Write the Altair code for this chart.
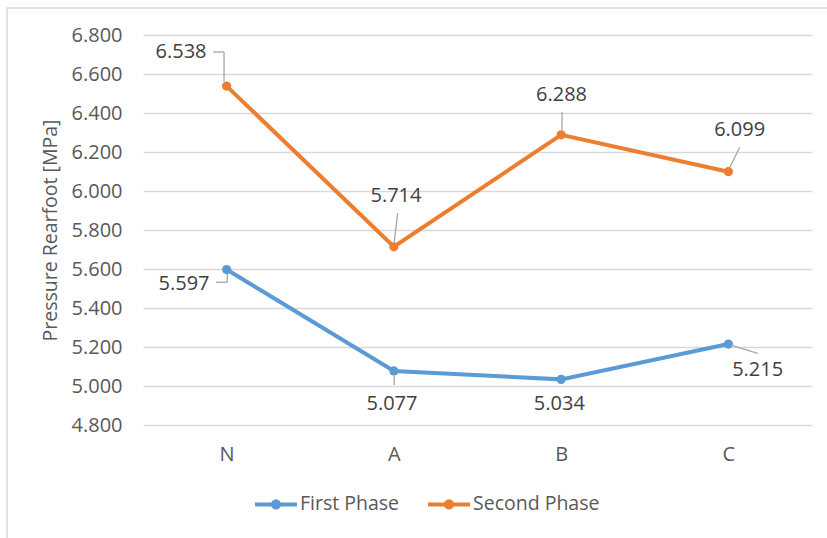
import altair as alt
import pandas as pd

# Rearfoot pressure per condition, two measurement phases
cats = ["N", "A", "B", "C"]
first_phase = [5.597, 5.077, 5.034, 5.215]
second_phase = [6.538, 5.714, 6.288, 6.099]
series_names = ["First Phase", "Second Phase"]
y_ticks = [4.8, 5.0, 5.2, 5.4, 5.6, 5.8, 6.0, 6.2, 6.4, 6.6, 6.8]

colors = ["#5B9BD5", "#ED7D31"]
FONT = "Open Sans"

rows = []
for name, vals in zip(series_names, [first_phase, second_phase]):
    for c, v in zip(cats, vals):
        rows.append({"series": name, "cat": c, "value": v})
df = pd.DataFrame(rows)

# Data label placement (pixel offsets from each marker) and leader-line vertices
label_layout = {
    ("Second Phase", "N"): (-45.6, -33.6, [(-13.6, -34.1), (-2.6, -34.1), (-2.6, -4.5)]),
    ("Second Phase", "A"): (2.1, -51.1, [(3.8, -33.5), (0.3, -4.5)]),
    ("Second Phase", "B"): (0.4, -39.5, [(0.9, -22.8), (0.9, -4.5)]),
    ("Second Phase", "C"): (11.3, -41.7, [(11.3, -24.4), (1.5, -4.5)]),
    ("First Phase", "N"): (-42.6, 14.2, [(-10.6, 12.7), (0.7, 12.7), (0.7, 4.5)]),
    ("First Phase", "A"): (-1.9, 32.8, [(0.3, 4.5), (0.3, 14.0)]),
    ("First Phase", "B"): (-1.8, 24.4, []),
    ("First Phase", "C"): (29.3, 26.1, [(4.5, 1.5), (29.3, 9.2)]),
}

x_enc = alt.X(
    "cat:N",
    sort=cats,
    scale=alt.Scale(type="point", padding=0.5, domain=cats),
    axis=alt.Axis(
        title=None, domain=False, ticks=False, tickSize=0, grid=False,
        labelAngle=0, labelAlign="center", labelBaseline="top",
        labelFontSize=20, labelColor="#595959", labelPadding=19.5, labelFont=FONT,
    ),
)
y_enc = alt.Y(
    "value:Q",
    scale=alt.Scale(domain=[4.8, 6.8], nice=False, zero=False),
    axis=alt.Axis(
        title="Pressure Rearfoot [MPa]", values=y_ticks, format=".3f",
        domain=False, ticks=False, tickSize=0,
        grid=True, gridColor="#D9D9D9", gridWidth=1.5,
        labelFontSize=20, labelColor="#595959", labelPadding=21, labelFont=FONT,
        titleFontSize=19.5, titleColor="#595959", titleFont=FONT, titleFontWeight="normal",
        titleAngle=270, titleBaseline="middle", titleAlign="center",
        titleX=-93, titleY=195,
    ),
)
color_scale = alt.Scale(domain=series_names, range=colors)

legend_symbol = (
    "M-1,0L1,0"
    "M0.15,0A0.15,0.15,0,1,1,-0.15,0A0.15,0.15,0,1,1,0.15,0Z"
)

base = alt.Chart(df)

lines = base.mark_line(strokeWidth=4).encode(
    x=x_enc,
    y=y_enc,
    color=alt.Color(
        "series:N", scale=color_scale,
        legend=alt.Legend(
            title=None, orient="none", direction="horizontal",
            legendX=110, legendY=446,
            symbolType=legend_symbol, symbolSize=1764, symbolStrokeWidth=4,
            labelFontSize=19.5, labelColor="#595959", labelFont=FONT,
            labelOffset=1, columnPadding=20,
        ),
    ),
)

points = base.mark_circle(size=85, opacity=1).encode(
    x=x_enc,
    y=y_enc,
    color=alt.Color("series:N", scale=color_scale, legend=None),
)

# Chart-area frame
frame = alt.Chart(alt.Data(values=[{}])).mark_rect(
    fillOpacity=0, stroke="#D9D9D9", strokeWidth=1.5
).encode(
    x=alt.value(-136), x2=alt.value(700), y=alt.value(-27), y2=alt.value(520)
)

layers = [frame, lines, points]

for (name, c), (dx, dy, verts) in label_layout.items():
    sel = base.transform_filter(
        (alt.datum.series == name) & (alt.datum.cat == c)
    )
    for (ax, ay), (bx, by) in zip(verts[:-1], verts[1:]):
        layers.append(
            sel.mark_rule(
                color="#A6A6A6", strokeWidth=1.3,
                xOffset=ax, x2Offset=bx, yOffset=ay, y2Offset=by,
            ).encode(x=x_enc, x2=alt.X2("cat"), y=y_enc, y2=alt.Y2("value"))
        )
    layers.append(
        sel.mark_text(
            dx=dx, dy=dy, fontSize=20, font=FONT, color="#404040",
            align="center", baseline="middle",
        ).encode(x=x_enc, y=y_enc, text=alt.Text("value:Q", format=".3f"))
    )

chart = alt.layer(*layers).properties(
    width=669,
    height=390,
    padding={"left": 143, "top": 35, "right": 15, "bottom": 113},
    autosize=alt.AutoSizeParams(type="none"),
    background="white",
).configure_view(stroke=None)

chart.save("out.html", embed_options={"renderer": "svg", "actions": False})
